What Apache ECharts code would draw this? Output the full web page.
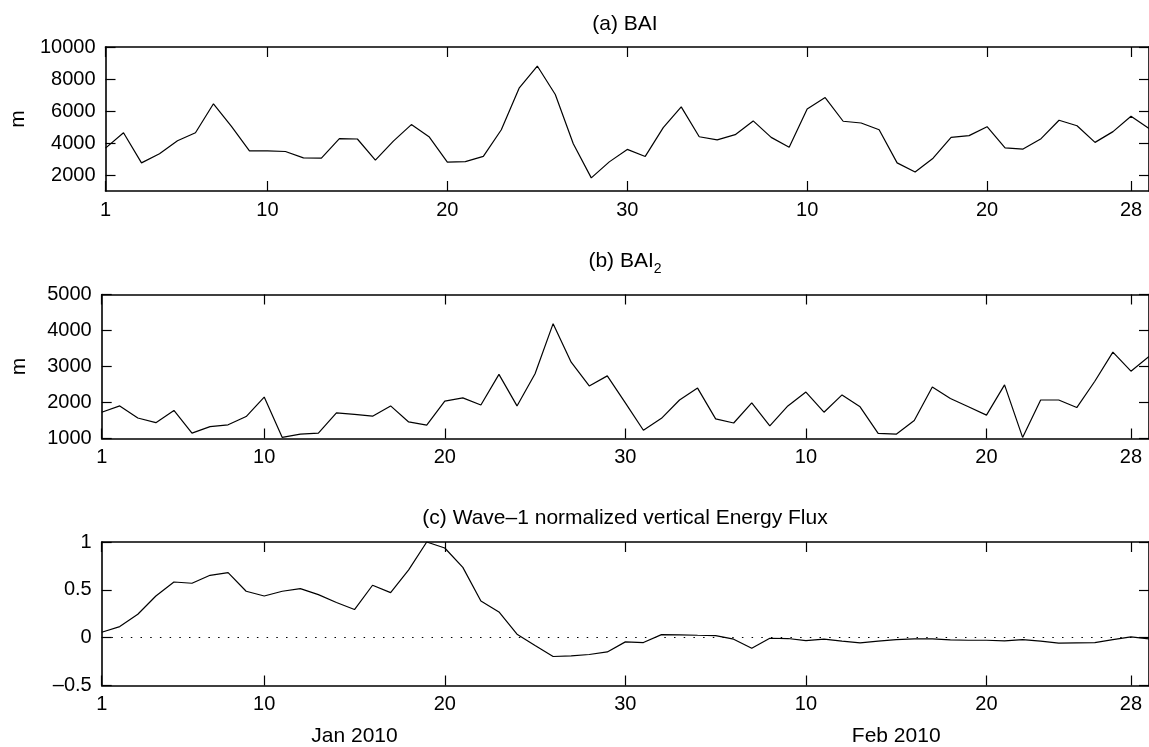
<!DOCTYPE html>
<html><head><meta charset="utf-8">
<script src="https://cdn.jsdelivr.net/npm/echarts@6/dist/echarts.min.js"></script>
<style>html,body{margin:0;padding:0;background:#fff}#c{width:1149px;height:747px}</style>
</head><body><div id="c"></div>
<script>
// ---- data ----
const days = [1,2,3,4,5,6,7,8,9,10,11,12,13,14,15,16,17,18,19,20,21,22,23,24,25,26,27,28,29,30,31,32,33,34,35,36,37,38,39,40,41,42,43,44,45,46,47,48,49,50,51,52,53,54,55,56,57,58,59];
const bai = [3680,4640,2760,3330,4140,4640,6450,5040,3510,3510,3470,3070,3050,4270,4250,2930,4120,5150,4370,2800,2840,3160,4830,7450,8810,7030,3950,1820,2820,3600,3160,4960,6260,4390,4200,4520,5380,4350,3740,6130,6840,5360,5250,4830,2760,2190,3050,4350,4460,5020,3700,3620,4270,5420,5080,4040,4710,5670,4900];
const bai2 = [1730,1905,1570,1440,1780,1150,1330,1380,1610,2150,1030,1120,1150,1710,1670,1620,1905,1460,1370,2040,2130,1930,2780,1905,2800,4190,3120,2460,2740,1990,1230,1560,2070,2400,1545,1430,1990,1350,1905,2290,1730,2210,1880,1140,1120,1500,2430,2110,1880,1650,2490,1030,2070,2070,1860,2590,3400,2870,3280];
const flux = [0.057,0.116,0.245,0.436,0.582,0.569,0.652,0.68,0.485,0.436,0.485,0.513,0.45,0.367,0.294,0.548,0.471,0.708,1.0,0.937,0.735,0.384,0.269,0.036,-0.082,-0.197,-0.19,-0.176,-0.149,-0.044,-0.051,0.032,0.029,0.025,0.022,-0.016,-0.11,-0.006,-0.009,-0.03,-0.016,-0.037,-0.054,-0.037,-0.02,-0.013,-0.013,-0.023,-0.027,-0.027,-0.034,-0.02,-0.037,-0.058,-0.054,-0.051,-0.02,0.008,-0.013];
const xTickValues = [1,10,20,30,40,50,58];
const xTickLabels = ['1','10','20','30','10','20','28'];
const monthValues = [15,45];
const monthLabels = ['Jan 2010','Feb 2010'];
const yTicksA = [2000,4000,6000,8000,10000];
const yTicksB = [1000,2000,3000,4000,5000];
const yTicksC = [-0.5,0,0.5,1];
const yLabelsC = ['\u20130.5','0','0.5','1'];
const titleA = '(a) BAI';
const titleB = '(b) BAI';
const titleBSub = '2';
const titleC = '(c) Wave\u20131 normalized vertical Energy Flux';
const unitName = 'm';

// ---- chart ----
const FONT = 'Liberation Sans, Arial, Helvetica, sans-serif';
const gridTops = [47, 294.5, 542];
const gridH = 144;
const grids = gridTops.map(t => ({left: 101.7, right: -1, top: t, height: gridH}));

const axisLine = {show: true, onZero: false, lineStyle: {color: '#000', width: 1.6}};
const tickStyle = {color: '#000', width: 1.2};

const xAxes = [];
const yAxes = [];
function addAxes(gi, yMin, yMax, yTicks, yFmt, yName) {
  xAxes.push({gridIndex: gi, type: 'value', min: 1, max: 59, position: 'bottom',
    axisLine: axisLine, splitLine: {show: false},
    axisTick: {show: true, inside: true, length: 10, customValues: xTickValues, lineStyle: tickStyle},
    axisLabel: {show: true, customValues: xTickValues, margin: 9, fontSize: 20, color: '#000', fontFamily: FONT,
      showMinLabel: true, showMaxLabel: true,
      formatter: v => xTickLabels[xTickValues.indexOf(v)]}});
  xAxes.push({gridIndex: gi, type: 'value', min: 1, max: 59, position: 'top',
    axisLine: axisLine, splitLine: {show: false},
    axisTick: {show: true, inside: true, length: 10, customValues: xTickValues, lineStyle: tickStyle},
    axisLabel: {show: false}});
  yAxes.push({gridIndex: gi, type: 'value', min: yMin, max: yMax, position: 'left',
    axisLine: axisLine, splitLine: {show: false},
    axisTick: {show: true, inside: true, length: 10, customValues: yTicks, lineStyle: tickStyle},
    axisLabel: {show: true, customValues: yTicks, margin: 10, fontSize: 20, color: '#000', fontFamily: FONT,
      showMinLabel: true, showMaxLabel: true, formatter: yFmt},
    name: yName, nameLocation: 'middle', nameRotate: 90, nameGap: 72,
    nameTextStyle: {fontSize: 21, color: '#000', fontFamily: FONT}});
  yAxes.push({gridIndex: gi, type: 'value', min: yMin, max: yMax, position: 'right',
    axisLine: axisLine, splitLine: {show: false},
    axisTick: {show: true, inside: true, length: 10, customValues: yTicks, lineStyle: tickStyle},
    axisLabel: {show: false}});
}
addAxes(0, 1000, 10000, yTicksA, v => String(v), unitName);
addAxes(1, 1000, 5000, yTicksB, v => String(v), unitName);
addAxes(2, -0.5, 1, yTicksC, v => yLabelsC[yTicksC.indexOf(v)], '');
// month labels under panel (c)
xAxes.push({gridIndex: 2, type: 'value', min: 1, max: 59, position: 'bottom',
  axisLine: {show: false, onZero: false}, axisTick: {show: false}, splitLine: {show: false},
  axisLabel: {show: true, customValues: monthValues, margin: 40.5, fontSize: 21, color: '#000', fontFamily: FONT,
    formatter: v => monthLabels[monthValues.indexOf(v)]}});

const lineStyle = {color: '#000', width: 1.2};
const option = {
  animation: false,
  backgroundColor: '#fff',
  title: [
    {text: titleA, left: 625, top: 12, textAlign: 'center', padding: 0,
      textStyle: {fontSize: 21, lineHeight: 24, fontWeight: 'normal', color: '#000', fontFamily: FONT}},
    {text: '{b|' + titleB + '}{s|' + titleBSub + '}', left: 625, top: 247.7, textAlign: 'center', padding: 0,
      textStyle: {fontWeight: 'normal', color: '#000', fontFamily: FONT,
        rich: {b: {fontSize: 21, lineHeight: 28, color: '#000', fontFamily: FONT},
               s: {fontSize: 14, lineHeight: 14, verticalAlign: 'bottom', color: '#000', fontFamily: FONT}}}},
    {text: titleC, left: 625, top: 506.3, textAlign: 'center', padding: 0,
      textStyle: {fontSize: 21, lineHeight: 24, fontWeight: 'normal', color: '#000', fontFamily: FONT}}
  ],
  grid: grids,
  xAxis: xAxes,
  yAxis: yAxes,
  series: [
    {type: 'line', xAxisIndex: 0, yAxisIndex: 0, symbol: 'none', lineStyle: lineStyle,
      data: days.map((d, i) => [d, bai[i]])},
    {type: 'line', xAxisIndex: 2, yAxisIndex: 2, symbol: 'none', lineStyle: lineStyle,
      data: days.map((d, i) => [d, bai2[i]])},
    {type: 'line', xAxisIndex: 4, yAxisIndex: 4, symbol: 'none', lineStyle: lineStyle,
      data: days.map((d, i) => [d, flux[i]]),
      markLine: {silent: true, symbol: ['none', 'none'], label: {show: false},
        lineStyle: {type: [1.5, 8.2], color: '#000', width: 1.1},
        data: [{yAxis: 0}]}}
  ]
};
const chart = echarts.init(document.getElementById('c'), null, {renderer: 'canvas'});
chart.setOption(option);
</script>
</body></html>
